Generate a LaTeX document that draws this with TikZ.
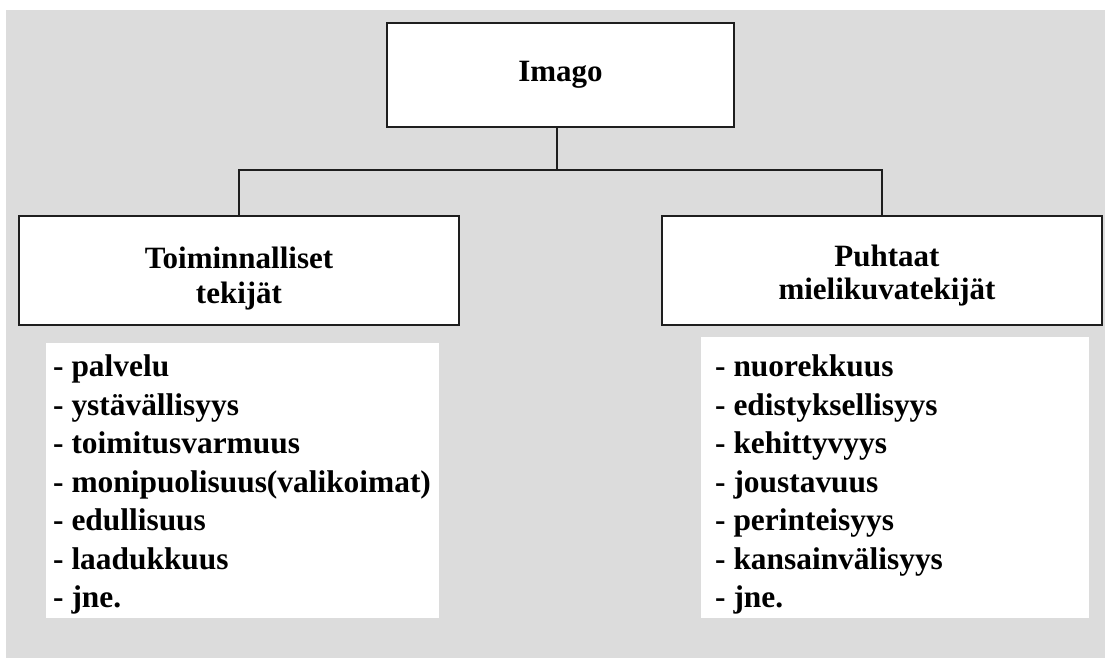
\documentclass[tikz,border=0pt]{standalone}
\usepackage{fontspec}
\setmainfont{Liberation Serif}
\definecolor{panelgray}{RGB}{220,220,220}
\definecolor{boxline}{RGB}{30,30,30}
\begin{document}
\begin{tikzpicture}[x=1pt,y=-1pt,
  txt/.style={font=\fontsize{31}{36}\selectfont\bfseries, text=black},
  headbox/.style={draw=boxline, line width=2pt, fill=white, rectangle, inner sep=0pt},
  listpanel/.style={fill=white, rectangle, inner sep=0pt},
  listtext/.style={font=\fontsize{31.4}{38.5}\selectfont\bfseries, align=left, inner sep=0pt, anchor=north west},
  link/.style={draw=boxline, line width=1.5pt}]
  % canvas
  \useasboundingbox (0,0) rectangle (1105,658);
  \fill[white] (0,0) rectangle (1105,658);
  \fill[panelgray] (6,10) rectangle (1105,658);

  % top box
  \node[headbox, minimum width=347pt, minimum height=104pt, txt] (imago) at (560.5,75) {Imago};

  % second level boxes
  \node[headbox, minimum width=440pt, minimum height=109pt] (left) at (239,270.5) {};
  \node[headbox, minimum width=440pt, minimum height=109pt] (right) at (882,270.5) {};
  \node[txt, align=center, inner sep=0pt] (lefttitle) at (239,278.5) {Toiminnalliset\\[-1pt]tekijät};
  \node[txt, align=center, inner sep=0pt] (righttitle) at (887,276) {Puhtaat\\[-3pt]mielikuvatekijät};

  % connectors
  \coordinate (bus) at (557,170);
  \draw[link] (imago.south -| bus) -- (bus);
  \draw[link] (left.north) -- (left.north |- bus) -- (right.north |- bus) -- (right.north);

  % lists
  \node[listpanel, minimum width=393pt, minimum height=275pt, anchor=north west] (leftlist) at (46,343) {};
  \node[listpanel, minimum width=388pt, minimum height=281pt, anchor=north west] (rightlist) at (701,337) {};
  \node[listtext] (leftitems) at (53,355) {- palvelu\\- ystävällisyys\\- toimitusvarmuus\\- monipuolisuus(valikoimat)\\- edullisuus\\- laadukkuus\\- jne.};
  \node[listtext] (rightitems) at (715,355) {- nuorekkuus\\- edistyksellisyys\\- kehittyvyys\\- joustavuus\\- perinteisyys\\- kansainvälisyys\\- jne.};
\end{tikzpicture}
\end{document}
